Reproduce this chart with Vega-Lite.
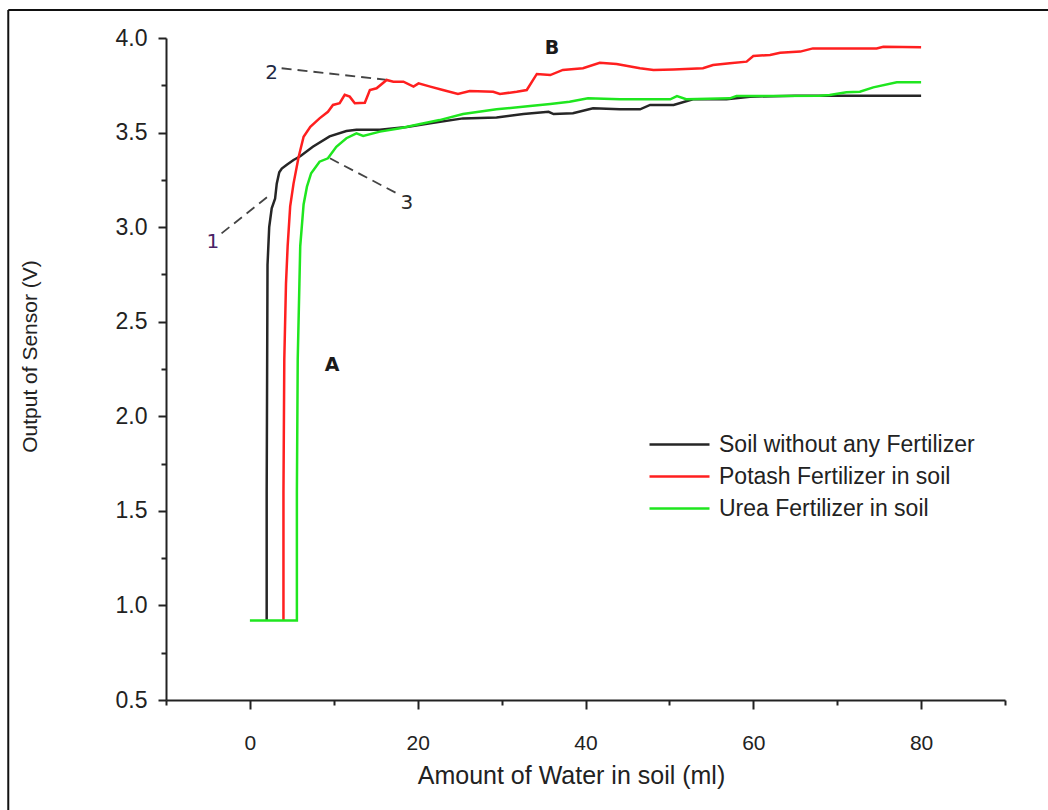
{
  "$schema": "https://vega.github.io/schema/vega-lite/v6.json",
  "width": 839,
  "height": 662,
  "autosize": {"type": "none"},
  "padding": {"left": 166, "top": 38, "right": 43, "bottom": 110},
  "background": "white",
  "config": {
    "view": {"stroke": null},
    "font": "Liberation Sans"
  },
  "datasets": {
    "series": [
      {"s": "Soil without any Fertilizer", "x": 2.0, "y": 0.92},
      {"s": "Soil without any Fertilizer", "x": 2.0, "y": 1.6},
      {"s": "Soil without any Fertilizer", "x": 2.05, "y": 2.2},
      {"s": "Soil without any Fertilizer", "x": 2.1, "y": 2.8},
      {"s": "Soil without any Fertilizer", "x": 2.3, "y": 3.0},
      {"s": "Soil without any Fertilizer", "x": 2.6, "y": 3.1},
      {"s": "Soil without any Fertilizer", "x": 3.0, "y": 3.15},
      {"s": "Soil without any Fertilizer", "x": 3.2, "y": 3.23},
      {"s": "Soil without any Fertilizer", "x": 3.5, "y": 3.29},
      {"s": "Soil without any Fertilizer", "x": 3.8, "y": 3.31},
      {"s": "Soil without any Fertilizer", "x": 4.4, "y": 3.33},
      {"s": "Soil without any Fertilizer", "x": 5.2, "y": 3.355},
      {"s": "Soil without any Fertilizer", "x": 6.0, "y": 3.375},
      {"s": "Soil without any Fertilizer", "x": 7.5, "y": 3.425},
      {"s": "Soil without any Fertilizer", "x": 9.5, "y": 3.48},
      {"s": "Soil without any Fertilizer", "x": 11.5, "y": 3.508},
      {"s": "Soil without any Fertilizer", "x": 12.7, "y": 3.515},
      {"s": "Soil without any Fertilizer", "x": 15.5, "y": 3.515},
      {"s": "Soil without any Fertilizer", "x": 18.7, "y": 3.53},
      {"s": "Soil without any Fertilizer", "x": 21.5, "y": 3.549},
      {"s": "Soil without any Fertilizer", "x": 25.4, "y": 3.575},
      {"s": "Soil without any Fertilizer", "x": 29.4, "y": 3.58},
      {"s": "Soil without any Fertilizer", "x": 32.6, "y": 3.598},
      {"s": "Soil without any Fertilizer", "x": 35.6, "y": 3.61},
      {"s": "Soil without any Fertilizer", "x": 36.2, "y": 3.598},
      {"s": "Soil without any Fertilizer", "x": 38.5, "y": 3.602},
      {"s": "Soil without any Fertilizer", "x": 40.9, "y": 3.628},
      {"s": "Soil without any Fertilizer", "x": 44.1, "y": 3.623},
      {"s": "Soil without any Fertilizer", "x": 46.5, "y": 3.623},
      {"s": "Soil without any Fertilizer", "x": 47.7, "y": 3.646},
      {"s": "Soil without any Fertilizer", "x": 50.5, "y": 3.646},
      {"s": "Soil without any Fertilizer", "x": 52.8, "y": 3.676},
      {"s": "Soil without any Fertilizer", "x": 56.8, "y": 3.676},
      {"s": "Soil without any Fertilizer", "x": 59.6, "y": 3.69},
      {"s": "Soil without any Fertilizer", "x": 65.0, "y": 3.695},
      {"s": "Soil without any Fertilizer", "x": 80.0, "y": 3.695},
      {"s": "Potash Fertilizer in soil", "x": 4.0, "y": 0.92},
      {"s": "Potash Fertilizer in soil", "x": 4.0, "y": 1.6},
      {"s": "Potash Fertilizer in soil", "x": 4.1, "y": 2.3},
      {"s": "Potash Fertilizer in soil", "x": 4.3, "y": 2.7},
      {"s": "Potash Fertilizer in soil", "x": 4.5, "y": 2.9},
      {"s": "Potash Fertilizer in soil", "x": 4.8, "y": 3.11},
      {"s": "Potash Fertilizer in soil", "x": 5.2, "y": 3.23},
      {"s": "Potash Fertilizer in soil", "x": 5.8, "y": 3.37},
      {"s": "Potash Fertilizer in soil", "x": 6.4, "y": 3.478},
      {"s": "Potash Fertilizer in soil", "x": 7.2, "y": 3.53},
      {"s": "Potash Fertilizer in soil", "x": 8.3, "y": 3.575},
      {"s": "Potash Fertilizer in soil", "x": 9.3, "y": 3.61},
      {"s": "Potash Fertilizer in soil", "x": 9.9, "y": 3.646},
      {"s": "Potash Fertilizer in soil", "x": 10.7, "y": 3.655},
      {"s": "Potash Fertilizer in soil", "x": 11.3, "y": 3.7},
      {"s": "Potash Fertilizer in soil", "x": 11.9, "y": 3.69},
      {"s": "Potash Fertilizer in soil", "x": 12.5, "y": 3.655},
      {"s": "Potash Fertilizer in soil", "x": 13.7, "y": 3.658},
      {"s": "Potash Fertilizer in soil", "x": 14.3, "y": 3.725},
      {"s": "Potash Fertilizer in soil", "x": 15.1, "y": 3.734},
      {"s": "Potash Fertilizer in soil", "x": 16.3, "y": 3.778},
      {"s": "Potash Fertilizer in soil", "x": 17.1, "y": 3.769},
      {"s": "Potash Fertilizer in soil", "x": 18.3, "y": 3.769},
      {"s": "Potash Fertilizer in soil", "x": 19.5, "y": 3.743},
      {"s": "Potash Fertilizer in soil", "x": 20.1, "y": 3.76},
      {"s": "Potash Fertilizer in soil", "x": 21.5, "y": 3.743},
      {"s": "Potash Fertilizer in soil", "x": 23.0, "y": 3.725},
      {"s": "Potash Fertilizer in soil", "x": 24.8, "y": 3.704},
      {"s": "Potash Fertilizer in soil", "x": 26.2, "y": 3.72},
      {"s": "Potash Fertilizer in soil", "x": 29.0, "y": 3.716},
      {"s": "Potash Fertilizer in soil", "x": 29.8, "y": 3.704},
      {"s": "Potash Fertilizer in soil", "x": 31.8, "y": 3.716},
      {"s": "Potash Fertilizer in soil", "x": 33.0, "y": 3.725},
      {"s": "Potash Fertilizer in soil", "x": 34.2, "y": 3.81},
      {"s": "Potash Fertilizer in soil", "x": 35.8, "y": 3.804},
      {"s": "Potash Fertilizer in soil", "x": 37.3, "y": 3.831},
      {"s": "Potash Fertilizer in soil", "x": 39.7, "y": 3.84},
      {"s": "Potash Fertilizer in soil", "x": 41.7, "y": 3.869},
      {"s": "Potash Fertilizer in soil", "x": 43.7, "y": 3.862},
      {"s": "Potash Fertilizer in soil", "x": 46.5, "y": 3.84},
      {"s": "Potash Fertilizer in soil", "x": 48.1, "y": 3.831},
      {"s": "Potash Fertilizer in soil", "x": 50.5, "y": 3.834},
      {"s": "Potash Fertilizer in soil", "x": 54.0, "y": 3.84},
      {"s": "Potash Fertilizer in soil", "x": 55.2, "y": 3.857},
      {"s": "Potash Fertilizer in soil", "x": 57.2, "y": 3.866},
      {"s": "Potash Fertilizer in soil", "x": 59.2, "y": 3.875},
      {"s": "Potash Fertilizer in soil", "x": 60.0, "y": 3.905},
      {"s": "Potash Fertilizer in soil", "x": 62.0, "y": 3.91},
      {"s": "Potash Fertilizer in soil", "x": 63.2, "y": 3.922},
      {"s": "Potash Fertilizer in soil", "x": 65.6, "y": 3.928},
      {"s": "Potash Fertilizer in soil", "x": 67.1, "y": 3.945},
      {"s": "Potash Fertilizer in soil", "x": 74.7, "y": 3.945},
      {"s": "Potash Fertilizer in soil", "x": 75.5, "y": 3.954},
      {"s": "Potash Fertilizer in soil", "x": 80.0, "y": 3.951},
      {"s": "Urea Fertilizer in soil", "x": 0.0, "y": 0.92},
      {"s": "Urea Fertilizer in soil", "x": 5.6, "y": 0.92},
      {"s": "Urea Fertilizer in soil", "x": 5.6, "y": 1.6},
      {"s": "Urea Fertilizer in soil", "x": 5.7, "y": 2.3},
      {"s": "Urea Fertilizer in soil", "x": 5.9, "y": 2.7},
      {"s": "Urea Fertilizer in soil", "x": 6.0, "y": 2.9},
      {"s": "Urea Fertilizer in soil", "x": 6.4, "y": 3.12},
      {"s": "Urea Fertilizer in soil", "x": 6.8, "y": 3.214},
      {"s": "Urea Fertilizer in soil", "x": 7.3, "y": 3.285},
      {"s": "Urea Fertilizer in soil", "x": 8.3, "y": 3.346},
      {"s": "Urea Fertilizer in soil", "x": 9.3, "y": 3.364},
      {"s": "Urea Fertilizer in soil", "x": 10.3, "y": 3.425},
      {"s": "Urea Fertilizer in soil", "x": 11.5, "y": 3.47},
      {"s": "Urea Fertilizer in soil", "x": 12.7, "y": 3.496},
      {"s": "Urea Fertilizer in soil", "x": 13.5, "y": 3.482},
      {"s": "Urea Fertilizer in soil", "x": 15.5, "y": 3.505},
      {"s": "Urea Fertilizer in soil", "x": 17.9, "y": 3.523},
      {"s": "Urea Fertilizer in soil", "x": 20.3, "y": 3.545},
      {"s": "Urea Fertilizer in soil", "x": 22.6, "y": 3.566},
      {"s": "Urea Fertilizer in soil", "x": 25.4, "y": 3.598},
      {"s": "Urea Fertilizer in soil", "x": 29.4, "y": 3.623},
      {"s": "Urea Fertilizer in soil", "x": 33.4, "y": 3.64},
      {"s": "Urea Fertilizer in soil", "x": 35.8, "y": 3.651},
      {"s": "Urea Fertilizer in soil", "x": 38.1, "y": 3.663},
      {"s": "Urea Fertilizer in soil", "x": 40.3, "y": 3.681},
      {"s": "Urea Fertilizer in soil", "x": 44.1, "y": 3.676},
      {"s": "Urea Fertilizer in soil", "x": 50.1, "y": 3.676},
      {"s": "Urea Fertilizer in soil", "x": 50.9, "y": 3.693},
      {"s": "Urea Fertilizer in soil", "x": 52.0, "y": 3.676},
      {"s": "Urea Fertilizer in soil", "x": 57.2, "y": 3.681},
      {"s": "Urea Fertilizer in soil", "x": 58.0, "y": 3.693},
      {"s": "Urea Fertilizer in soil", "x": 67.9, "y": 3.695},
      {"s": "Urea Fertilizer in soil", "x": 69.1, "y": 3.699},
      {"s": "Urea Fertilizer in soil", "x": 71.1, "y": 3.713},
      {"s": "Urea Fertilizer in soil", "x": 72.7, "y": 3.716},
      {"s": "Urea Fertilizer in soil", "x": 74.3, "y": 3.739},
      {"s": "Urea Fertilizer in soil", "x": 77.1, "y": 3.766},
      {"s": "Urea Fertilizer in soil", "x": 80.0, "y": 3.766}
    ],
    "frame": [
      {"x": -28.8, "x2": 100, "y": 4.148, "y2": 4.148},
      {"x": -28.8, "x2": -28.8, "y": 4.148, "y2": -0.3}
    ],
    "leaders": [
      {"x": -3.38, "y": 2.967, "x2": 2.38, "y2": 3.17},
      {"x": 3.78, "y": 3.84, "x2": 16.5, "y2": 3.778},
      {"x": 9.54, "y": 3.364, "x2": 17.9, "y2": 3.17}
    ],
    "numlabels": [
      {"t": "1", "x": -4.4, "y": 2.923, "c": "#4a2266"},
      {"t": "2", "x": 2.6, "y": 3.813, "c": "#1f2a44"},
      {"t": "3", "x": 18.7, "y": 3.126, "c": "#2a2a2a"}
    ],
    "letters": [
      {"t": "A", "x": 9.8, "y": 2.27},
      {"t": "B", "x": 36.0, "y": 3.945}
    ]
  },
  "layer": [
    {
      "data": {"name": "frame"},
      "mark": {"type": "rule", "color": "#111111", "strokeWidth": 2, "clip": false},
      "encoding": {
        "x": {"field": "x", "type": "quantitative", "scale": {"domain": [-10, 90], "nice": false, "zero": false}},
        "x2": {"field": "x2"},
        "y": {"field": "y", "type": "quantitative", "scale": {"domain": [0.5, 4.0], "nice": false, "zero": false}},
        "y2": {"field": "y2"}
      }
    },
    {
      "data": {"name": "leaders"},
      "mark": {"type": "rule", "color": "#444444", "strokeWidth": 1.8, "strokeDash": [10, 6]},
      "encoding": {
        "x": {"field": "x", "type": "quantitative"},
        "x2": {"field": "x2"},
        "y": {"field": "y", "type": "quantitative"},
        "y2": {"field": "y2"}
      }
    },
    {
      "data": {"name": "series"},
      "mark": {"type": "line", "strokeWidth": 2.5, "interpolate": "linear"},
      "encoding": {
        "x": {
          "field": "x", "type": "quantitative",
          "scale": {"domain": [-10, 90], "nice": false, "zero": false},
          "axis": {
            "title": "Amount of Water in soil (ml)",
            "values": [-10, 0, 10, 20, 30, 40, 50, 60, 70, 80, 90],
            "labelExpr": "datum.value % 20 == 0 ? datum.label : ''",
            "grid": false,
            "domainColor": "#222222", "domainWidth": 2,
            "tickColor": "#222222", "tickWidth": 2,
            "tickSize": {"condition": {"test": "datum.value % 20 == 0", "value": 9}, "value": 5},
            "labelFont": "Liberation Sans", "labelFontSize": 21, "labelColor": "#222222",
            "labelPadding": 23,
            "titleFont": "Liberation Sans", "titleFontSize": 25, "titleFontWeight": "normal", "titleColor": "#222222",
            "titleX": 405, "titleY": 75, "titleBaseline": "middle", "titleAlign": "center"
          }
        },
        "y": {
          "field": "y", "type": "quantitative",
          "scale": {"domain": [0.5, 4.0], "nice": false, "zero": false},
          "axis": {
            "title": "Output of Sensor (V)",
            "values": [0.5, 0.75, 1.0, 1.25, 1.5, 1.75, 2.0, 2.25, 2.5, 2.75, 3.0, 3.25, 3.5, 3.75, 4.0],
            "labelExpr": "round(datum.value*100) % 50 == 0 ? format(datum.value, '.1f') : ''",
            "grid": false,
            "domainColor": "#222222", "domainWidth": 2,
            "tickColor": "#222222", "tickWidth": 2,
            "tickSize": {"condition": {"test": "round(datum.value*100) % 50 == 0", "value": 8}, "value": 5},
            "labelFont": "Liberation Sans", "labelFontSize": 23, "labelColor": "#222222",
            "labelPadding": 11,
            "titleFont": "Liberation Sans", "titleFontSize": 21, "titleFontWeight": "normal", "titleColor": "#222222",
            "titleX": -136, "titleY": 318, "titleAngle": -90, "titleBaseline": "middle", "titleAlign": "center"
          }
        },
        "color": {
          "field": "s", "type": "nominal",
          "scale": {
            "domain": ["Soil without any Fertilizer", "Potash Fertilizer in soil", "Urea Fertilizer in soil"],
            "range": ["#262626", "#ff1f1f", "#1fe61f"]
          },
          "legend": {
            "title": null,
            "orient": "none",
            "legendX": 497,
            "legendY": 390,
            "symbolType": "M-2,0L2,0",
            "symbolSize": 900,
            "symbolStrokeWidth": 2.5,
            "labelFont": "Liberation Sans",
            "labelFontSize": 23,
            "labelColor": "#222222",
            "labelOffset": 23,
            "rowPadding": 3,
            "labelLimit": 400
          }
        }
      }
    },
    {
      "data": {"name": "numlabels"},
      "mark": {"type": "text", "font": "DejaVu Sans", "fontSize": 20, "align": "center", "baseline": "middle"},
      "encoding": {
        "x": {"field": "x", "type": "quantitative"},
        "y": {"field": "y", "type": "quantitative"},
        "text": {"field": "t"},
        "color": {"field": "c", "type": "nominal", "scale": null}
      }
    },
    {
      "data": {"name": "letters"},
      "mark": {"type": "text", "font": "DejaVu Sans", "fontSize": 19, "fontWeight": "bold", "align": "center", "baseline": "middle", "color": "#1a1a1a"},
      "encoding": {
        "x": {"field": "x", "type": "quantitative"},
        "y": {"field": "y", "type": "quantitative"},
        "text": {"field": "t"}
      }
    }
  ]
}
